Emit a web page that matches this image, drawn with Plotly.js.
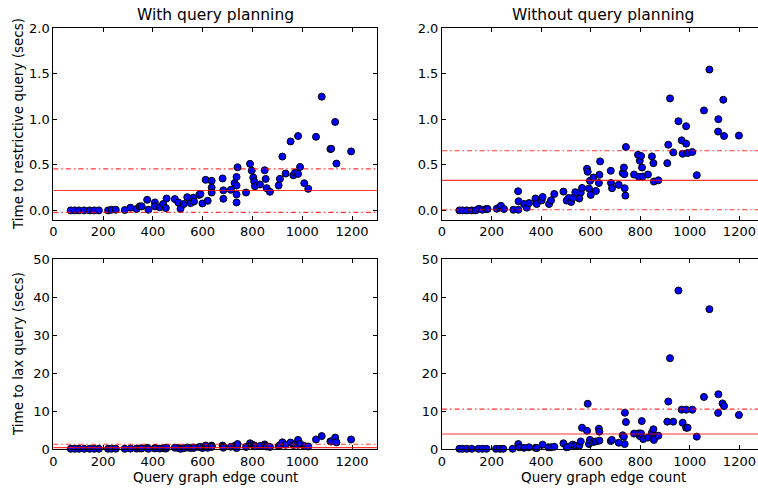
<!DOCTYPE html>
<html>
<head>
<meta charset="utf-8">
<script src="https://cdn.plot.ly/plotly-3.0.1.min.js"></script>
<style>html,body{margin:0;padding:0;background:#fff;}#chart{width:758px;height:489px;}</style>
</head>
<body>
<div id="chart"></div>
<script>
// ---- Data ----
// With query planning: edge counts and times
const xWith = [70,86,103,124,146,164,183,220,234,251,287,310,334,347,355,377,382,408,408,428,441,452,455,488,502,511,524,538,551,562,565,586,591,599,612,620,636,636,636,680,683,683,713,728,736,736,736,736,740,774,790,797,803,807,810,830,849,853,857,870,905,910,920,933,953,964,971,983,983,991,1008,1024,1055,1078,1113,1116,1132,1137,1196];
const restrictiveWith = [0,0,0,0,0,0,0,0,0.007,0.007,0.004,0.03,0.015,0.044,0.044,0.116,0.007,0.087,0.044,0.033,0.07,0.025,0.13,0.124,0.087,0.018,0.07,0.145,0.08,0.138,0.098,0.17,0.18,0.076,0.335,0.105,0.324,0.25,0.196,0.35,0.22,0.127,0.225,0.30,0.367,0.273,0.175,0.087,0.473,0.196,0.51,0.436,0.36,0.316,0.265,0.284,0.44,0.345,0.244,0.204,0.273,0.345,0.59,0.404,0.756,0.385,0.415,0.815,0.40,0.476,0.298,0.236,0.807,1.247,0.673,0.676,0.97,0.513,0.647];
const laxWith = [0.05,0.05,0.05,0.05,0.05,0.05,0.05,0.05,0.08,0.08,0.05,0.1,0.1,0.15,0.15,0.3,0.05,0.25,0.15,0.1,0.2,0.1,0.35,0.35,0.25,0.05,0.2,0.4,0.25,0.4,0.3,0.5,0.55,0.25,0.9,0.3,0.9,0.7,0.55,0.9,0.6,0.35,0.6,0.8,1.0,0.75,0.5,0.25,1.3,0.55,1.5,1.2,1.0,0.9,0.7,0.8,1.2,0.9,0.65,0.55,0.75,1.0,1.75,1.1,1.7,1.05,1.2,2.4,1.1,1.4,0.8,0.65,2.5,3.4,2.0,2.0,3.0,1.75,2.5];

// Without query planning
const xWithoutR = [70,83,100,120,136,149,163,178,184,221,231,238,250,288,308,307,309,331,342,351,377,382,402,406,432,440,453,490,503,511,521,527,538,554,560,565,585,588,593,597,600,611,621,633,635,638,681,682,686,713,729,734,736,737,740,742,775,791,794,798,803,807,810,831,847,853,855,873,909,913,920,933,954,967,971,985,985,991,1010,1028,1057,1079,1114,1115,1135,1138,1198];
const restrictiveWithout = [0,0,0,0,0,0.018,0.007,0.015,0.015,0.018,0.03,0.05,0.015,0.007,0.007,0.21,0.10,0.07,0.03,0.08,0.13,0.07,0.11,0.147,0.07,0.11,0.18,0.206,0.107,0.136,0.092,0.136,0.2,0.13,0.195,0.246,0.456,0.423,0.24,0.324,0.17,0.36,0.213,0.30,0.39,0.537,0.434,0.30,0.243,0.28,0.41,0.47,0.397,0.243,0.162,0.695,0.393,0.61,0.368,0.544,0.596,0.47,0.371,0.393,0.592,0.518,0.316,0.33,0.518,0.72,1.228,0.636,0.978,0.768,0.621,0.923,0.732,0.629,0.64,0.386,1.096,1.544,0.864,1.0,1.213,0.816,0.82];
const xWithoutL = [70,83,100,120,147,163,180,218,234,247,285,308,312,331,351,377,382,406,429,440,453,490,503,511,527,538,554,560,565,585,588,593,597,611,621,633,635,635,681,685,713,729,734,737,738,742,775,794,798,803,806,812,831,847,853,855,873,909,913,920,933,954,967,971,985,985,991,1010,1028,1057,1079,1114,1115,1132,1138,1198];
const laxWithout = [0.05,0.05,0.05,0.05,0.05,0.05,0.05,0.05,0.05,0.05,0.05,1.3,0.45,0.3,0.45,0.3,0.25,1.15,0.45,0.45,0.6,1.5,0.45,0.6,1.15,0.9,0.9,2.0,5.6,4.8,11.9,1.3,2.4,1.85,2.0,5.35,4.55,2.2,2.1,2.4,1.65,3.6,3.25,1.3,9.55,7.1,4.05,4.1,3.4,4.1,7.35,2.6,3.0,4.3,5.2,2.4,3.5,7.2,12.5,23.9,7.2,41.7,10.35,6.9,10.35,5.6,5.6,10.35,3.25,13.7,36.8,9.5,14.4,12.0,11.3,8.95];

// Reference lines: [mean, mean - std, mean + std]
const statsRestrictiveWith = [0.218, -0.022, 0.455];
const statsRestrictiveWithout = [0.33, 0.007, 0.654];
const statsLaxWith = [0.35, -0.6, 1.25];
const statsLaxWithout = [3.95, -2.6, 10.5];

const panelTitles = ["With query planning", "Without query planning"];
const yTitles = ["Time to restrictive query (secs)", "Time to lax query (secs)"];
const xTitle = "Query graph edge count";
const xTickVals = [0,200,400,600,800,1000,1200];
const topTickVals = [0,0.5,1.0,1.5,2.0];
const topTickText = ["0.0","0.5","1.0","1.5","2.0"];
const bottomTickVals = [0,10,20,30,40,50];

// ---- Chart ----
const FONT = "DejaVu Sans, Bitstream Vera Sans, sans-serif";
const W = 758, H = 489;
const marker = {color: "#0000ff", size: 7, line: {color: "#000", width: 1}};
function pts(x, y, xa, ya) {
  return {x: x, y: y, xaxis: xa, yaxis: ya, type: "scatter", mode: "markers", marker: marker, hoverinfo: "x+y", cliponaxis: false};
}
const data = [
  pts(xWith, restrictiveWith, "x", "y"),
  pts(xWithoutR, restrictiveWithout, "x2", "y2"),
  pts(xWith, laxWith, "x3", "y3"),
  pts(xWithoutL, laxWithout, "x4", "y4")
];

const leftDom = [53.3 / W, 377 / W];
const rightDom = [442 / W, 1];
const topDom = [1 - 219.5 / H, 1 - 28 / H];
const botDom = [1 - 449 / H, 1 - 259 / H];

function xax(dom, range, anchor, mirror) {
  return {domain: dom, range: range, anchor: anchor, showline: true, linecolor: "#000", linewidth: 1,
    mirror: mirror, ticks: "inside", ticklen: 4, tickcolor: "#000", tickvals: xTickVals,
    showgrid: false, zeroline: false, tickfont: {family: FONT, size: 13, color: "#000"}, fixedrange: true};
}
function yax(dom, range, anchor, mirror, tv, tt) {
  const a = {domain: dom, range: range, anchor: anchor, showline: true, linecolor: "#000", linewidth: 1,
    mirror: mirror, ticks: "inside", ticklen: 4, tickcolor: "#000", tickvals: tv,
    showgrid: false, zeroline: false, tickfont: {family: FONT, size: 13, color: "#000"}, fixedrange: true};
  if (tt) a.ticktext = tt;
  return a;
}

function statLines(stats, xr, yr) {
  const base = {type: "line", xref: xr + " domain", yref: yr, x0: 0, x1: 1, layer: "above"};
  return [
    Object.assign({}, base, {y0: stats[0], y1: stats[0], line: {color: "rgba(255,0,0,0.8)", width: 1.2}}),
    Object.assign({}, base, {y0: stats[1], y1: stats[1], line: {color: "rgba(255,0,0,0.8)", width: 1.2, dash: "5px,3px,1.5px,3px"}}),
    Object.assign({}, base, {y0: stats[2], y1: stats[2], line: {color: "rgba(255,0,0,0.8)", width: 1.2, dash: "5px,3px,1.5px,3px"}})
  ];
}

const annFont = {family: FONT, size: 13.5, color: "#000"};
const layout = {
  width: W, height: H, margin: {l: 0, r: 0, t: 0, b: 0},
  paper_bgcolor: "#fff", plot_bgcolor: "#fff", showlegend: false,
  xaxis: xax(leftDom, [0, 1300], "y", "allticks"),
  yaxis: yax(topDom, [-0.1, 2.0], "x", "allticks", topTickVals, topTickText),
  xaxis2: xax(rightDom, [0, 1275], "y2", "allticks"),
  yaxis2: yax(topDom, [-0.1, 2.0], "x2", false, topTickVals, topTickText),
  xaxis3: xax(leftDom, [0, 1300], "y3", "allticks"),
  yaxis3: yax(botDom, [0, 50], "x3", "allticks", bottomTickVals),
  xaxis4: xax(rightDom, [0, 1275], "y4", "allticks"),
  yaxis4: yax(botDom, [0, 50], "x4", false, bottomTickVals),
  shapes: [].concat(
    statLines(statsRestrictiveWith, "x", "y"),
    statLines(statsRestrictiveWithout, "x2", "y2"),
    statLines(statsLaxWith, "x3", "y3"),
    statLines(statsLaxWithout, "x4", "y4")
  ),
  annotations: [
    {text: panelTitles[0], xref: "paper", yref: "paper", x: 215 / W, y: 1 - 15 / H, showarrow: false, xanchor: "center", yanchor: "middle", font: {family: FONT, size: 15.5, color: "#000"}},
    {text: panelTitles[1], xref: "paper", yref: "paper", x: 603 / W, y: 1 - 15 / H, showarrow: false, xanchor: "center", yanchor: "middle", font: {family: FONT, size: 15.5, color: "#000"}},
    {text: yTitles[0], xref: "paper", yref: "paper", x: 18 / W, y: 1 - 124 / H, showarrow: false, textangle: -90, xanchor: "center", yanchor: "middle", font: annFont},
    {text: yTitles[1], xref: "paper", yref: "paper", x: 18 / W, y: 1 - 354 / H, showarrow: false, textangle: -90, xanchor: "center", yanchor: "middle", font: annFont},
    {text: xTitle, xref: "paper", yref: "paper", x: 215 / W, y: 1 - 477 / H, showarrow: false, xanchor: "center", yanchor: "middle", font: annFont},
    {text: xTitle, xref: "paper", yref: "paper", x: 603 / W, y: 1 - 477 / H, showarrow: false, xanchor: "center", yanchor: "middle", font: annFont}
  ]
};

Plotly.newPlot("chart", data, layout, {staticPlot: true, displayModeBar: false});
</script>
</body>
</html>
